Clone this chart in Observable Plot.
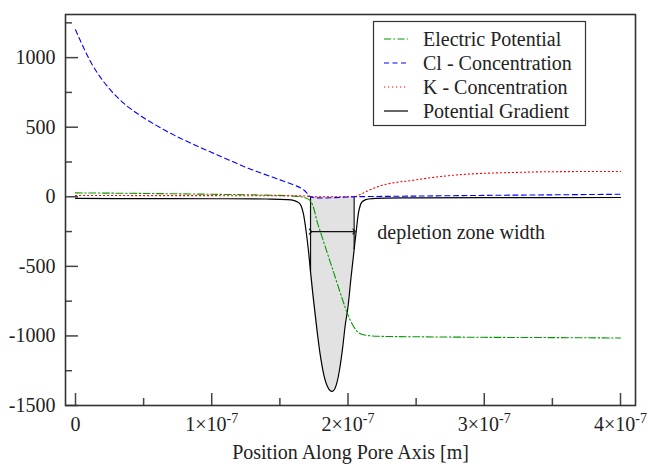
<!DOCTYPE html>
<html>
<head>
<meta charset="utf-8">
<script src="https://cdn.jsdelivr.net/npm/d3@7"></script>
<script src="https://cdn.jsdelivr.net/npm/@observablehq/plot@0.6"></script>
<style>
  html, body { margin: 0; padding: 0; background: #fff; }
</style>
</head>
<body>
<div id="chart"></div>
<script>
// ---- data (x in units of 1e-7 m) ----
const UNIT = 1e-7;

const seriesNames = ["Electric Potential", "Cl - Concentration", "K - Concentration", "Potential Gradient"];

const epX = [0, 0.5, 1.0, 1.4, 1.6, 1.68, 1.725, 1.78, 1.84, 1.90, 1.96, 2.0, 2.04, 2.07, 2.1, 2.15, 2.25, 2.5, 3.0, 3.5, 4.0];
const epY = [28, 24, 18, 12, 5, -5, -30, -200, -380, -560, -740, -850, -930, -970, -988, -998, -1003, -1006, -1010, -1012, -1015];

const clX = [0, 0.125, 0.25, 0.375, 0.5, 0.625, 0.75, 0.875, 1.0, 1.125, 1.25, 1.375, 1.5, 1.6, 1.65, 1.68, 1.70, 1.725, 2.045, 2.1, 2.5, 3.0, 3.5, 4.0];
const clY = [1200, 945, 775, 655, 568, 495, 430, 373, 318, 265, 212, 166, 122, 86, 65, 45, 25, 0, 0, 1, 5, 10, 14, 18];

const kX = [0, 1.0, 1.6, 1.70, 1.725, 2.045, 2.08, 2.15, 2.236, 2.48, 2.73, 2.98, 3.23, 3.47, 4.0];
const kY = [9, 8, 7, 5, 0, 0, 12, 45, 78, 119, 151, 168, 175, 180, 182];

const gradX = [0, 0.5, 1.0, 1.4, 1.55, 1.6, 1.63, 1.65, 1.67, 1.69, 1.71, 1.725, 1.75, 1.775, 1.80, 1.825, 1.85, 1.87, 1.885, 1.90, 1.92, 1.94, 1.96, 1.98, 2.00, 2.02, 2.045, 2.06, 2.08, 2.10, 2.13, 2.2, 2.5, 3.0, 4.0];
const gradY = [-12, -13, -14, -16, -20, -26, -38, -55, -110, -230, -390, -540, -770, -980, -1160, -1290, -1365, -1394, -1398, -1385, -1330, -1230, -1090, -920, -790, -600, -380, -250, -100, -40, -20, -12, -8, -6, -5];

const zoneStart = 1.725, zoneEnd = 2.045;
const arrowLevel = -250;
const annotation = {x: 2.2, y: -260, text: "depletion zone width"};

const xTicksMajor = [0, 1, 2, 3, 4];
const xTicksMinor = [0.5, 1.5, 2.5, 3.5];
const xTickMantissa = ["0", "1×10", "2×10", "3×10", "4×10"];
const xTickExponent = ["", "-7", "-7", "-7", "-7"];
const yTicksMajor = [-1500, -1000, -500, 0, 500, 1000];
const yTicksMinor = [-1250, -750, -250, 250, 750, 1250];
const xLabel = "Position Along Pore Axis [m]";

// ---- build tables ----
const toRows = (xs, ys) => xs.map((x, i) => ({x: x * UNIT, y: ys[i]}));
const ep = toRows(epX, epY);
const cl = toRows(clX, clY);
const kc = toRows(kX, kY);
const grad = toRows(gradX, gradY);
const zone = grad.filter(d => d.x >= zoneStart * UNIT - 1e-12 && d.x <= zoneEnd * UNIT + 1e-12);
const edges = [zone[0], zone[zone.length - 1]];

const colors = ["#009a00", "#0000ff", "#ff0000", "#000000"];
const dashes = ["7,2.5,1.5,2.5", "5,3.5", "1.2,2.8", null];
const FONT = "'Liberation Serif', 'Times New Roman', serif";

const chart = Plot.plot({
  width: 648,
  height: 464,
  marginLeft: 65,
  marginRight: 13,
  marginTop: 14,
  marginBottom: 59,
  style: {fontFamily: FONT, fontSize: "20px", color: "#222", background: "#fff"},
  x: {domain: [-0.0734 * UNIT, 4.11 * UNIT]},
  y: {domain: [-1500, 1310]},
  marks: [
    Plot.areaY(zone, {x: "x", y1: 0, y2: "y", fill: "#e2e2e2", curve: "catmull-rom"}),
    Plot.ruleX(edges, {x: "x", y1: 0, y2: "y", stroke: "#111", strokeWidth: 1.2}),
    Plot.line(grad, {x: "x", y: "y", stroke: colors[3], strokeWidth: 1.2, curve: "catmull-rom"}),
    Plot.line(ep, {x: "x", y: "y", stroke: colors[0], strokeWidth: 1.1, strokeDasharray: dashes[0], curve: "catmull-rom"}),
    Plot.line(kc, {x: "x", y: "y", stroke: colors[2], strokeWidth: 1.1, strokeDasharray: dashes[2], curve: "monotone-x"}),
    Plot.line(cl, {x: "x", y: "y", stroke: colors[1], strokeWidth: 1.1, strokeDasharray: dashes[1], curve: "catmull-rom"}),
    Plot.link([{x1: zoneStart * UNIT, x2: zoneEnd * UNIT, y: arrowLevel}], {
      x1: "x1", x2: "x2", y1: "y", y2: "y", stroke: "#111", strokeWidth: 1.2,
      markerStart: "arrow", markerEnd: "arrow"
    }),
    Plot.text([annotation], {x: d => d.x * UNIT, y: "y", text: "text", textAnchor: "start", dx: 2, fill: "#222"}),
    // ticks (inward)
    Plot.axisY(yTicksMinor, {tickSize: -7, tickFormat: () => "", stroke: "#444", strokeWidth: 1.5, label: null}),
    Plot.axisY(yTicksMajor, {tickSize: -13, tickPadding: 23, tickFormat: d => String(d), stroke: "#444", strokeWidth: 1.5, label: null, fill: "#222"}),
    Plot.axisX(xTicksMinor.map(d => d * UNIT), {tickSize: -7, tickFormat: () => "", stroke: "#444", strokeWidth: 1.5, label: null}),
    Plot.axisX(xTicksMajor.map(d => d * UNIT), {
      tickSize: -12, tickPadding: 23,
      tickFormat: d => xTickMantissa[xTicksMajor.indexOf(Math.round(d / UNIT))],
      stroke: "#444", strokeWidth: 1.5, fill: "#222",
      label: xLabel, labelAnchor: "center", labelOffset: 53, labelArrow: "none"
    }),
    Plot.frame({stroke: "#333", strokeWidth: 1.6})
  ]
});

document.getElementById("chart").appendChild(chart);

// superscript exponents on x tick labels
const svg = d3.select(chart.tagName.toLowerCase() === "svg" ? chart : chart.querySelector("svg"));
svg.selectAll('g[aria-label="x-axis tick label"] text').each(function () {
  const t = d3.select(this);
  const i = xTickMantissa.indexOf(t.text());
  if (i >= 0 && xTickExponent[i]) {
    t.append("tspan").attr("dy", "-8").attr("font-size", "14px").text(xTickExponent[i]);
  }
});

// legend
const lg = svg.append("g").attr("font-family", FONT).attr("font-size", "20px").attr("text-anchor", "start");
lg.append("rect").attr("x", 373.5).attr("y", 21.5).attr("width", 212).attr("height", 104)
  .attr("fill", "#fff").attr("stroke", "#333").attr("stroke-width", 1.2);
seriesNames.forEach((name, i) => {
  const cy = 39 + 24 * i;
  lg.append("line").attr("x1", 384).attr("x2", 408).attr("y1", cy).attr("y2", cy)
    .attr("stroke", colors[i]).attr("stroke-width", 1.2)
    .attr("stroke-dasharray", dashes[i]);
  lg.append("text").attr("x", 423).attr("y", cy).attr("dy", "0.33em").attr("fill", "#222")
    .attr("text-anchor", "start").text(name);
});
</script>
</body>
</html>
